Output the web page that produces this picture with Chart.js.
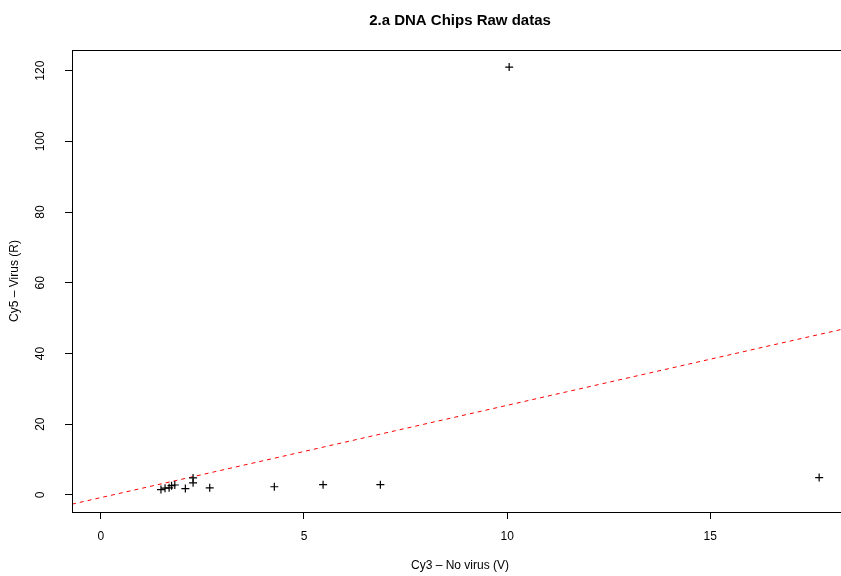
<!DOCTYPE html>
<html>
<head>
  <title>2.a DNA Chips Raw datas</title>
  <script src="https://cdn.jsdelivr.net/npm/chart.js"></script>
  <style>
    html, body {
      margin: 0;
      overflow: hidden;
      background: #fff;
    }
    canvas {
      display: block;
    }
  </style>
</head>
<body>
  <!-- plot region runs a few px past the right edge of the window, as in the original -->
  <canvas id="rawChart" width="848" height="576"></canvas>

  <script>
    // Intensities: Cy3 (no virus) vs Cy5 (virus)
    const cy3 = [1.48, 1.58, 1.68, 1.74, 1.82, 2.08, 2.27, 2.27, 2.68, 4.27, 5.47, 6.88, 10.05, 17.68];
    const cy5 = [1.5, 1.9, 2.0, 2.6, 2.8, 1.8, 3.4, 4.8, 2.0, 2.3, 2.9, 2.9, 121, 4.9];

    // dashed red reference line y = a + b x
    const fitIntercept = -0.77;
    const fitSlope = 2.61;

    const xTicks = [0, 5, 10, 15];
    const yTicks = [0, 20, 40, 60, 80, 100, 120];

    const xMin = -0.71, xMax = 18.39;
    const yMin = -4.84, yMax = 125.84;

    const font = "'Liberation Sans', Arial, sans-serif";
    Chart.defaults.font.family = font;
    Chart.defaults.color = "#000";

    const points = cy3.map((v, i) => ({ x: v, y: cy5[i] }));
    const fitPoints = [xMin, xMax].map(v => ({ x: v, y: fitIntercept + fitSlope * v }));

    // box around the plot region + rotated y tick labels (R style)
    const frame = {
      id: "frame",
      afterDraw(chart) {
        const { ctx, chartArea: a, scales: { y } } = chart;
        ctx.save();
        ctx.strokeStyle = "#000";
        ctx.lineWidth = 1;
        ctx.strokeRect(a.left + 0.5, a.top + 0.5, a.right - a.left - 1, a.bottom - a.top);

        ctx.fillStyle = "#000";
        ctx.font = "12px " + font;
        ctx.textAlign = "center";
        ctx.textBaseline = "middle";
        y.ticks.forEach(t => {
          ctx.save();
          ctx.translate(a.left - 31, y.getPixelForValue(t.value));
          ctx.rotate(-Math.PI / 2);
          ctx.fillText(String(t.value), 0, 0);
          ctx.restore();
        });
        ctx.restore();
      }
    };

    new Chart(document.getElementById("rawChart"), {
      type: "scatter",
      data: {
        datasets: [{
          label: "spots",
          data: points,
          pointStyle: "cross",
          pointRadius: 4,
          pointHoverRadius: 4,
          borderColor: "#000",
          backgroundColor: "#000",
          borderWidth: 1.2
        }, {
          label: "fit",
          data: fitPoints,
          showLine: true,
          pointRadius: 0,
          borderColor: "#ff0000",
          borderWidth: 1,
          borderDash: [4, 4]
        }]
      },
      options: {
        responsive: false,
        animation: false,
        devicePixelRatio: 1,
        layout: { autoPadding: false, padding: 0 },
        plugins: {
          legend: { display: false },
          tooltip: { enabled: false },
          title: {
            display: true,
            text: "2.a DNA Chips Raw datas",
            fullSize: false,
            color: "#000",
            font: { size: 15, weight: "bold" },
            padding: { top: 12, bottom: 20 }
          }
        },
        scales: {
          x: {
            type: "linear",
            min: xMin,
            max: xMax,
            afterBuildTicks: s => { s.ticks = xTicks.map(v => ({ value: v })); },
            afterFit: s => { s.height = 64; s.paddingLeft = 0; s.paddingRight = 0; },
            grid: { drawOnChartArea: false, drawTicks: true, tickLength: 7, color: "#000", lineWidth: 1 },
            border: { display: false },
            ticks: { font: { size: 12 }, padding: 10, maxRotation: 0, color: "#000" },
            title: {
              display: true,
              text: "Cy3 – No virus (V)",
              font: { size: 12 },
              padding: { top: 0, bottom: 3 }
            }
          },
          y: {
            type: "linear",
            min: yMin,
            max: yMax,
            afterBuildTicks: s => { s.ticks = yTicks.map(v => ({ value: v })); },
            afterFit: s => { s.width = 72; s.paddingTop = 0; s.paddingBottom = 0; },
            grid: { drawOnChartArea: false, drawTicks: true, tickLength: 7, color: "#000", lineWidth: 1 },
            border: { display: false },
            ticks: { display: false },
            title: {
              display: true,
              text: "Cy5 – Virus (R)",
              font: { size: 12 },
              padding: { top: 7, bottom: 0 }
            }
          }
        }
      },
      plugins: [frame]
    });
  </script>
</body>
</html>
